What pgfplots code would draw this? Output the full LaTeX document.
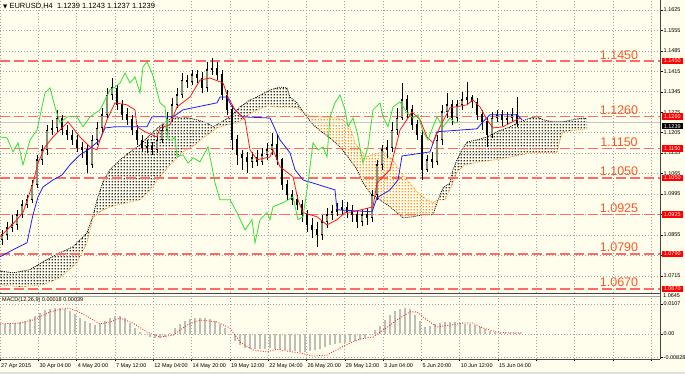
\documentclass[border=0pt]{standalone}
\usepackage{pgfplots}
\pgfplotsset{compat=1.18}
\usepackage{pgfplotstable}
\usepackage{fontspec}
\setmainfont{Liberation Sans}
\newfontfamily\djv{DejaVu Sans}
\usetikzlibrary{patterns}
\pgfdeclarepatternformonly{mtdots}{\pgfqpoint{0pt}{0pt}}{\pgfqpoint{2.8pt}{2.8pt}}{\pgfqpoint{2.8pt}{2.8pt}}{%
  \pgfpathrectangle{\pgfqpoint{0.7pt}{0.7pt}}{\pgfqpoint{1.3pt}{1.3pt}}\pgfusepath{fill}}
\definecolor{bg}{RGB}{255,253,235}
\definecolor{lvl}{RGB}{255,105,105}
\definecolor{lvltxt}{RGB}{245,90,40}
\definecolor{tenkan}{RGB}{245,30,30}
\definecolor{kijun}{RGB}{30,30,250}
\definecolor{chikou}{RGB}{50,225,50}
\definecolor{spanA}{RGB}{255,150,40}
\definecolor{bull}{RGB}{135,145,120}
\definecolor{gridc}{RGB}{165,165,165}
\definecolor{histc}{RGB}{190,190,185}
\newcommand\ticklab{\fontsize{5.5}{6}\selectfont}

\pgfplotstableread{
x o h l c
2 1.0838 1.0872 1.0821 1.0855
7 1.0855 1.0900 1.0838 1.0879
12 1.0879 1.0924 1.0866 1.0889
17 1.0889 1.0941 1.0872 1.0924
22 1.0924 1.0975 1.0913 1.0958
27 1.0958 1.0992 1.0948 1.0975
32 1.0975 1.1043 1.0965 1.1026
37 1.1026 1.1129 1.1016 1.1112
42 1.1112 1.1163 1.1095 1.1146
47 1.1146 1.1232 1.1129 1.1214
52 1.1214 1.1249 1.1197 1.1221
57 1.1221 1.1283 1.1208 1.1255
62 1.1255 1.1266 1.1197 1.1214
67 1.1214 1.1232 1.1180 1.1197
72 1.1197 1.1214 1.1163 1.1180
77 1.1180 1.1197 1.1139 1.1153
82 1.1153 1.1173 1.1119 1.1146
87 1.1146 1.1163 1.1067 1.1095
92 1.1095 1.1197 1.1084 1.1180
97 1.1180 1.1242 1.1163 1.1221
102 1.1221 1.1290 1.1208 1.1266
107 1.1266 1.1358 1.1255 1.1334
112 1.1334 1.1392 1.1317 1.1358
117 1.1358 1.1368 1.1283 1.1300
122 1.1300 1.1317 1.1249 1.1266
127 1.1266 1.1290 1.1232 1.1249
132 1.1249 1.1266 1.1197 1.1214
137 1.1214 1.1232 1.1163 1.1180
142 1.1180 1.1197 1.1139 1.1153
147 1.1153 1.1180 1.1136 1.1156
152 1.1156 1.1173 1.1129 1.1146
157 1.1146 1.1197 1.1136 1.1180
162 1.1180 1.1232 1.1170 1.1214
167 1.1214 1.1276 1.1204 1.1255
172 1.1255 1.1324 1.1242 1.1300
177 1.1300 1.1358 1.1290 1.1334
182 1.1334 1.1409 1.1324 1.1385
187 1.1385 1.1403 1.1358 1.1379
192 1.1379 1.1420 1.1368 1.1403
197 1.1403 1.1420 1.1375 1.1392
202 1.1392 1.1413 1.1341 1.1358
207 1.1358 1.1447 1.1344 1.1420
212 1.1420 1.1461 1.1403 1.1426
217 1.1426 1.1447 1.1385 1.1403
222 1.1403 1.1420 1.1317 1.1334
227 1.1334 1.1351 1.1266 1.1283
232 1.1283 1.1300 1.1146 1.1180
237 1.1180 1.1197 1.1095 1.1129
242 1.1129 1.1146 1.1078 1.1119
247 1.1119 1.1139 1.1067 1.1105
252 1.1105 1.1139 1.1084 1.1119
257 1.1119 1.1146 1.1091 1.1105
262 1.1105 1.1153 1.1095 1.1129
267 1.1129 1.1170 1.1112 1.1146
272 1.1146 1.1204 1.1129 1.1163
277 1.1163 1.1197 1.1095 1.1112
282 1.1112 1.1119 1.1009 1.1026
287 1.1026 1.1043 1.0975 1.0992
292 1.0992 1.1009 1.0958 1.0975
297 1.0975 1.0992 1.0941 1.0958
302 1.0958 1.0975 1.0900 1.0924
307 1.0924 1.0941 1.0866 1.0889
312 1.0889 1.0913 1.0845 1.0872
317 1.0872 1.0900 1.0814 1.0855
322 1.0855 1.0924 1.0838 1.0900
327 1.0900 1.0948 1.0879 1.0924
332 1.0924 1.0958 1.0907 1.0934
337 1.0934 1.0965 1.0920 1.0941
342 1.0941 1.0975 1.0924 1.0948
347 1.0948 1.0968 1.0913 1.0934
352 1.0934 1.0958 1.0900 1.0924
357 1.0924 1.0941 1.0879 1.0900
362 1.0900 1.0941 1.0886 1.0924
367 1.0924 1.0948 1.0889 1.0913
372 1.0913 1.1009 1.0900 1.0992
377 1.0992 1.1112 1.0975 1.1095
382 1.1095 1.1163 1.1078 1.1146
387 1.1146 1.1180 1.1119 1.1153
392 1.1153 1.1242 1.1139 1.1214
397 1.1214 1.1290 1.1197 1.1255
402 1.1255 1.1375 1.1249 1.1317
407 1.1317 1.1334 1.1255 1.1283
412 1.1283 1.1300 1.1214 1.1232
417 1.1232 1.1249 1.1180 1.1197
422 1.1197 1.1214 1.1043 1.1078
427 1.1078 1.1129 1.1071 1.1112
432 1.1112 1.1139 1.1084 1.1105
437 1.1105 1.1197 1.1095 1.1180
442 1.1180 1.1300 1.1163 1.1276
447 1.1276 1.1341 1.1255 1.1300
452 1.1300 1.1317 1.1232 1.1255
457 1.1255 1.1317 1.1242 1.1300
462 1.1300 1.1344 1.1283 1.1317
467 1.1317 1.1379 1.1300 1.1324
472 1.1324 1.1334 1.1290 1.1310
477 1.1310 1.1324 1.1249 1.1266
482 1.1266 1.1283 1.1214 1.1242
487 1.1242 1.1255 1.1156 1.1197
492 1.1197 1.1276 1.1187 1.1255
497 1.1255 1.1283 1.1242 1.1266
502 1.1266 1.1283 1.1228 1.1249
507 1.1249 1.1276 1.1232 1.1255
512 1.1255 1.1290 1.1242 1.1266
517 1.1266 1.1327 1.1225 1.1239
}\candles

\begin{document}
\begin{tikzpicture}
\fill[bg] (0pt,0pt) rectangle (685pt,374pt);
\fill[gray!25] (0pt,0pt) rectangle (685pt,2pt);

\begin{axis}[
  name=main, at={(0pt,81pt)}, anchor=south west, scale only axis,
  width=660pt, height=293pt,
  xmin=0, xmax=660, ymin=1.0656, ymax=1.1659,
  clip=false, axis line style={draw=none},
  scaled y ticks=false, scaled x ticks=false,
  xtick={0,38.3,76.6,114.9,153.2,191.5,229.8,268.1,306.4,344.7,383,421.3,459.6,497.9,536.2,574.5,612.8,651.1},
  xticklabels={}, xtick style={draw=none},
  ytick={1.0715,1.0785,1.0855,1.0925,1.0995,1.1065,1.1135,1.1205,1.1275,1.1345,1.1415,1.1485,1.1555,1.1625},
  yticklabels={1.0715,1.0785,1.0855,1.0925,1.0995,1.1065,1.1135,1.1205,1.1275,1.1345,1.1415,1.1485,1.1555,1.1625},
  ytick pos=right, yticklabel pos=right, tick align=outside,
  major tick length=2.5pt, ytick style={black, line width=0.4pt},
  yticklabel style={font=\ticklab, anchor=west, inner sep=1pt},
  grid=major, major grid style={draw=gridc, line width=0.5pt, dash pattern=on 1pt off 2pt},
  candle/.style={only marks, mark=*, mark size=0pt, mark options={draw=none, fill=none}},
]
% cloud fills
\addplot[draw=none, pattern=mtdots, pattern color=black!80] coordinates {
(0,1.0732)(13,1.0725)(30,1.0736)(43,1.0763)(60,1.0794)(73,1.0814)(87,1.0862)(93,1.0920)(97,1.0975)(103,1.1037)(110,1.1078)(120,1.1112)(130,1.1139)(140,1.1163)(150,1.1197)(160,1.1228)(170,1.1252)(183,1.1259)(197,1.1249)(207,1.1238)(213,1.1225)(220,1.1238)(230,1.1259)(240,1.1293)(250,1.1317)(257,1.1327)(270,1.1351)(280,1.1361)(287,1.1358)(290,1.1327)(297,1.1307)(303,1.1276)
(297,1.1290)(290,1.1293)(277,1.1293)(267,1.1296)(253,1.1276)(243,1.1252)(237,1.1238)(227,1.1232)(217,1.1221)(203,1.1187)(195,1.1163)(183,1.1139)(170,1.1095)(160,1.1054)(150,1.1009)(140,1.0975)(127,1.0965)(110,1.0951)(100,1.0934)(93,1.0913)(87,1.0828)(77,1.0760)(60,1.0708)(43,1.0684)(20,1.0677)(0,1.0684)} -- cycle;
\addplot[draw=none, pattern=mtdots, pattern color=spanA] coordinates {
(303,1.1276)(310,1.1262)(323,1.1259)(337,1.1255)(343,1.1249)(350,1.1225)(355,1.1170)(360,1.1146)(367,1.1122)(373,1.1129)(383,1.1139)(393,1.1112)(400,1.1071)(407,1.1043)(417,1.1002)(427,1.0975)(433,1.0965)(438,1.0975)
(433,1.0924)(423,1.0924)(413,1.0917)(403,1.0913)(397,1.0931)(390,1.0951)(380,1.0975)(370,1.0999)(363,1.1033)(357,1.1078)(350,1.1112)(340,1.1156)(330,1.1187)(323,1.1204)(313,1.1232)} -- cycle;
\addplot[draw=none, pattern=mtdots, pattern color=black!80] coordinates {
(438,1.0975)(443,1.1016)(450,1.1033)(453,1.1078)(457,1.1112)(462,1.1146)(467,1.1173)(477,1.1180)(487,1.1190)(497,1.1208)(510,1.1225)(520,1.1242)(530,1.1255)(537,1.1259)(543,1.1249)(553,1.1242)(563,1.1242)(573,1.1249)(583,1.1255)(587,1.1252)
(587,1.1218)(577,1.1214)(563,1.1208)(560,1.1180)(557,1.1136)(533,1.1136)(520,1.1129)(507,1.1119)(495,1.1112)(480,1.1105)(465,1.1095)(457,1.1071)(452,1.1026)(445,1.0975)} -- cycle;
% span lines
\addplot[black, line width=0.7pt, dash pattern=on 1pt off 1pt] coordinates {
(0,1.0732)(13,1.0725)(30,1.0736)(43,1.0763)(60,1.0794)(73,1.0814)(87,1.0862)(93,1.0920)(97,1.0975)(103,1.1037)(110,1.1078)(120,1.1112)(130,1.1139)(140,1.1163)(150,1.1197)(160,1.1228)(170,1.1252)(183,1.1259)(197,1.1249)(207,1.1238)(213,1.1225)(220,1.1238)(230,1.1259)(240,1.1293)(250,1.1317)(257,1.1327)(270,1.1351)(280,1.1361)(287,1.1358)(290,1.1327)(297,1.1307)(303,1.1276)(313,1.1232)(323,1.1204)(330,1.1187)(340,1.1156)(350,1.1112)(357,1.1078)(363,1.1033)(370,1.0999)(380,1.0975)(390,1.0951)(397,1.0931)(403,1.0913)(413,1.0917)(423,1.0924)(433,1.0924)(438,1.0975)(443,1.1016)(450,1.1033)(453,1.1078)(457,1.1112)(462,1.1146)(467,1.1173)(477,1.1180)(487,1.1190)(497,1.1208)(510,1.1225)(520,1.1242)(530,1.1255)(537,1.1259)(543,1.1249)(553,1.1242)(563,1.1242)(573,1.1249)(583,1.1255)(587,1.1252)};
\addplot[spanA, line width=0.7pt, dash pattern=on 1pt off 1pt] coordinates {
(0,1.0684)(20,1.0677)(43,1.0684)(60,1.0708)(77,1.0760)(87,1.0828)(93,1.0913)(100,1.0934)(110,1.0951)(127,1.0965)(140,1.0975)(150,1.1009)(160,1.1054)(170,1.1095)(183,1.1139)(195,1.1163)(203,1.1187)(217,1.1221)(227,1.1232)(237,1.1238)(243,1.1252)(253,1.1276)(267,1.1296)(277,1.1293)(290,1.1293)(297,1.1290)(303,1.1276)(310,1.1262)(323,1.1259)(337,1.1255)(343,1.1249)(350,1.1225)(355,1.1170)(360,1.1146)(367,1.1122)(373,1.1129)(383,1.1139)(393,1.1112)(400,1.1071)(407,1.1043)(417,1.1002)(427,1.0975)(433,1.0965)(438,1.0975)(445,1.0975)(452,1.1026)(457,1.1071)(465,1.1095)(480,1.1105)(495,1.1112)(507,1.1119)(520,1.1129)(533,1.1136)(557,1.1136)(560,1.1180)(563,1.1208)(577,1.1214)(587,1.1218)};
% level lines
\addplot[lvl, line width=1.4pt, dash pattern=on 10pt off 4pt] coordinates {(0,1.1450)(660,1.1450)};
\addplot[lvl, line width=1.4pt, dash pattern=on 10pt off 4pt] coordinates {(0,1.1260)(660,1.1260)};
\addplot[lvl, line width=1.4pt, dash pattern=on 10pt off 4pt] coordinates {(0,1.1150)(660,1.1150)};
\addplot[lvl, line width=1.4pt, dash pattern=on 10pt off 4pt] coordinates {(0,1.1050)(660,1.1050)};
\addplot[lvl, line width=1.4pt, dash pattern=on 10pt off 4pt] coordinates {(0,1.0925)(660,1.0925)};
\addplot[lvl, line width=1.4pt, dash pattern=on 10pt off 4pt] coordinates {(0,1.0790)(660,1.0790)};
\addplot[lvl, line width=1.4pt, dash pattern=on 10pt off 4pt] coordinates {(0,1.0670)(660,1.0670)};
\addplot[gray!45, line width=0.7pt] coordinates {(0,1.1239)(660,1.1239)};
% candles: wicks
\addplot[candle, error bars/.cd, y dir=plus, y explicit, error mark=none,
  error bar style={line width=0.7pt, draw=black}]
  table[x=x, y=l, y error expr=\thisrow{h}-\thisrow{l}] {\candles};
% bodies
\addplot[candle, error bars/.cd, y dir=both, y explicit, error mark=none,
  error bar style={line width=2.8pt, draw=black}]
  table[x=x, y expr=(\thisrow{o}+\thisrow{c})/2, y error expr={abs(\thisrow{c}-\thisrow{o})/2+0.00015}] {\candles};
\addplot[candle, restrict expr to domain={\thisrow{c}-\thisrow{o}}{0.0008:1},
  error bars/.cd, y dir=both, y explicit, error mark=none,
  error bar style={line width=1.4pt, draw=bull}]
  table[x=x, y expr=(\thisrow{o}+\thisrow{c})/2, y error expr={abs(\thisrow{c}-\thisrow{o})/2-0.0003}] {\candles};
% ichimoku lines
\addplot[kijun, line width=0.8pt] coordinates {
(0,1.0780)(13,1.0804)(27,1.0828)(33,1.0924)(38,1.0985)(43,1.1019)(53,1.1043)(62,1.1060)(70,1.1095)(80,1.1129)(88,1.1146)(100,1.1180)(105,1.1221)(115,1.1225)(147,1.1225)(152,1.1259)(173,1.1259)(183,1.1283)(217,1.1307)(220,1.1327)(227,1.1327)(232,1.1293)(242,1.1259)(270,1.1255)(280,1.1180)(290,1.1136)(295,1.1078)(303,1.1043)(335,1.1009)(337,1.0941)(372,1.0934)(377,1.0982)(390,1.1009)(398,1.1043)(402,1.1125)(430,1.1139)(437,1.1208)(477,1.1218)(483,1.1242)(490,1.1266)(517,1.1266)(522,1.1249)};
\addplot[tenkan, line width=0.8pt] coordinates {
(0,1.0848)(15,1.0900)(23,1.0931)(33,1.1033)(38,1.1101)(45,1.1156)(53,1.1190)(60,1.1214)(68,1.1242)(72,1.1225)(80,1.1190)(90,1.1156)(97,1.1146)(100,1.1180)(107,1.1249)(115,1.1307)(127,1.1300)(135,1.1283)(137,1.1225)(145,1.1208)(157,1.1190)(160,1.1221)(170,1.1232)(177,1.1293)(190,1.1327)(200,1.1385)(210,1.1392)(223,1.1375)(228,1.1327)(235,1.1283)(245,1.1249)(250,1.1146)(257,1.1112)(270,1.1122)(273,1.1146)(280,1.1088)(293,1.1054)(298,1.0975)(303,1.0931)(317,1.0917)(327,1.0889)(337,1.0907)(345,1.0931)(353,1.0934)(373,1.0951)(377,1.1033)(390,1.1078)(400,1.1214)(412,1.1276)(420,1.1249)(427,1.1190)(433,1.1170)(440,1.1225)(450,1.1290)(467,1.1300)(473,1.1317)(480,1.1293)(487,1.1249)(493,1.1221)(503,1.1225)(510,1.1238)(520,1.1255)};
\addplot[chikou, line width=0.8pt] coordinates {
(0,1.1190)(7,1.1187)(13,1.1139)(18,1.1170)(23,1.1095)(30,1.1180)(37,1.1214)(42,1.1293)(45,1.1341)(50,1.1358)(55,1.1293)(60,1.1238)(67,1.1259)(77,1.1259)(83,1.1225)(90,1.1259)(100,1.1283)(110,1.1351)(115,1.1361)(120,1.1375)(125,1.1409)(130,1.1375)(135,1.1396)(140,1.1341)(143,1.1430)(147,1.1447)(152,1.1409)(155,1.1375)(160,1.1307)(165,1.1293)(167,1.1225)(168,1.1180)(172,1.1180)(175,1.1190)(177,1.1122)(183,1.1129)(188,1.1101)(193,1.1119)(200,1.1105)(208,1.1156)(212,1.1088)(215,1.1033)(220,1.0975)(230,1.0975)(237,1.0931)(245,1.0872)(252,1.0907)(255,1.0828)(260,1.0907)(267,1.0931)(270,1.0907)(273,1.0951)(283,1.0965)(293,1.0985)(298,1.0907)(303,1.0917)(308,1.1033)(313,1.1170)(318,1.1146)(323,1.1156)(327,1.1122)(330,1.1259)(335,1.1307)(340,1.1334)(345,1.1283)(348,1.1225)(353,1.1255)(357,1.1208)(363,1.1101)(368,1.1156)(373,1.1283)(380,1.1307)(383,1.1259)(388,1.1225)(393,1.1293)(400,1.1310)(407,1.1273)(413,1.1255)(418,1.1266)(423,1.1208)(428,1.1180)(433,1.1225)(437,1.1259)(443,1.1225)(450,1.1255)(455,1.1238)(458,1.1242)};
% level texts
\foreach \v/\t in {1.1450/1.1450,1.1260/1.1260,1.1150/1.1150,1.1050/1.1050,1.0925/1.0925,1.0790/1.0790,1.0670/1.0670}{
  \edef\temp{\noexpand\node[anchor=base, text=lvltxt, font=\noexpand\fontsize{12.5}{13}\noexpand\selectfont, inner sep=0pt] at (axis cs:619,\v) [yshift=2pt] {\t};}
  \temp
}
\coordinate (L1) at (axis cs:660,1.1450);
\coordinate (L2) at (axis cs:660,1.1260);
\coordinate (L3) at (axis cs:660,1.1150);
\coordinate (L4) at (axis cs:660,1.1050);
\coordinate (L5) at (axis cs:660,1.0925);
\coordinate (L6) at (axis cs:660,1.0790);
\coordinate (L7) at (axis cs:660,1.0670);
\coordinate (LC) at (axis cs:660,1.1239);
\end{axis}

\begin{axis}[
  name=macd, at={(0pt,15pt)}, anchor=south west, scale only axis,
  width=660pt, height=63pt,
  xmin=0, xmax=660, ymin=-0.008929, ymax=0.013571,
  clip=false, axis line style={draw=none},
  scaled y ticks=false, scaled x ticks=false,
  xtick={0,38.3,76.6,114.9,153.2,191.5,229.8,268.1,306.4,344.7,383,421.3,459.6,497.9,536.2,574.5,612.8,651.1},
  xticklabels={27 Apr 2015,30 Apr 04:00,4 May 20:00,7 May 12:00,12 May 04:00,14 May 20:00,19 May 12:00,22 May 04:00,26 May 20:00,29 May 12:00,3 Jun 04:00,5 Jun 20:00,10 Jun 12:00,15 Jun 04:00,,,,},
  xtick pos=left, ytick pos=right, yticklabel pos=right, tick align=outside,
  major tick length=2.5pt, tick style={black, line width=0.4pt},
  xticklabel style={font=\ticklab, anchor=north west, inner sep=1pt, yshift=-0.5pt},
  ytick={-0.00828,0,0.0107}, yticklabels={-0.00828,0.00,0.0107},
  yticklabel style={font=\ticklab, anchor=west, inner sep=1pt},
  grid=major, major grid style={draw=gridc, line width=0.5pt, dash pattern=on 1pt off 2pt},
]
\addplot[ycomb, histc, line width=2pt] coordinates {
(0,0.0036)(5,0.0036)(10,0.0039)(15,0.0039)(20,0.0043)(25,0.0046)(30,0.0054)(35,0.0064)(40,0.0075)(45,0.0086)(50,0.0089)(55,0.0093)(60,0.0093)(65,0.0089)(70,0.0082)(75,0.0071)(80,0.0057)(85,0.0046)(90,0.0039)(95,0.0032)(100,0.0036)(105,0.0046)(110,0.0057)(115,0.0064)(120,0.0064)(125,0.0057)(130,0.0039)(135,0.0021)(140,0.0007)(145,-0.0004)(150,-0.0011)(155,-0.0014)(160,-0.0014)(165,-0.0011)(170,0.0004)(175,0.0021)(180,0.0036)(185,0.0046)(190,0.0054)(195,0.0057)(200,0.0057)(205,0.0057)(210,0.0054)(215,0.0046)(220,0.0036)(225,0.0021)(230,-0.0004)(235,-0.0025)(240,-0.0039)(245,-0.0050)(250,-0.0054)(255,-0.0054)(260,-0.0054)(265,-0.0054)(270,-0.0050)(275,-0.0054)(280,-0.0057)(285,-0.0057)(290,-0.0061)(295,-0.0061)(300,-0.0064)(305,-0.0064)(310,-0.0061)(315,-0.0057)(320,-0.0054)(325,-0.0046)(330,-0.0039)(335,-0.0036)(340,-0.0032)(345,-0.0032)(350,-0.0029)(355,-0.0025)(360,-0.0021)(365,-0.0014)(370,-0.0004)(375,0.0014)(380,0.0029)(385,0.0050)(390,0.0068)(395,0.0082)(400,0.0089)(405,0.0093)(410,0.0089)(415,0.0068)(420,0.0046)(425,0.0025)(430,0.0029)(435,0.0036)(440,0.0039)(445,0.0043)(450,0.0043)(455,0.0043)(460,0.0039)(465,0.0036)(470,0.0036)(475,0.0032)(480,0.0025)(485,0.0018)(490,0.0011)(495,0.0007)(500,0.0004)(505,0.0004)(510,0.0003)(515,0.0002)(520,0.0002)};
\addplot[red!85, line width=0.8pt, dash pattern=on 1pt off 1.5pt] coordinates {
(0,0.0036)(20,0.0039)(33,0.0050)(50,0.0079)(67,0.0093)(77,0.0082)(90,0.0057)(100,0.0036)(110,0.0043)(120,0.0057)(133,0.0039)(147,0.0007)(160,-0.0011)(173,-0.0004)(187,0.0032)(200,0.0050)(217,0.0043)(230,0.0021)(240,-0.0029)(253,-0.0057)(267,-0.0064)(277,-0.0054)(287,-0.0061)(300,-0.0068)(313,-0.0079)(327,-0.0075)(340,-0.0050)(350,-0.0032)(360,-0.0018)(373,-0.0011)(383,0.0014)(397,0.0050)(410,0.0079)(417,0.0079)(427,0.0050)(437,0.0025)(450,0.0032)(463,0.0039)(473,0.0039)(483,0.0021)(497,0.0007)(510,0.0004)(522,0.0004)};
\end{axis}

% frame lines
\draw[gray!55!black, line width=0.8pt] (660pt,15pt) -- (660pt,374pt);
\draw[gray!55!black, line width=1.2pt] (0pt,80.6pt) -- (660pt,80.6pt);
\draw[gray!70, line width=0.6pt] (0pt,78pt) -- (660pt,78pt);
\draw[gray!55!black, line width=0.8pt] (0pt,15pt) -- (660pt,15pt);

% right price boxes
\foreach \n/\t in {L1/1.1450,L2/1.1260,L3/1.1150,L4/1.1050,L5/1.0925,L6/1.0790,L7/1.0670}{
  \node[fill=red, text=white, font=\ticklab, inner sep=0.6pt, minimum width=21pt, minimum height=6.5pt, anchor=west] at ([xshift=1.5pt]\n) {\t};
}
\node[fill=black, text=white, font=\ticklab, inner sep=0.6pt, minimum width=21pt, minimum height=6.5pt, anchor=west] at ([xshift=1.5pt,yshift=-3.5pt]LC) {1.1239};
\node[anchor=west, font=\ticklab, inner sep=0pt] at (663pt,78.2pt) {1.0645};

% titles
\node[anchor=west, font=\fontsize{7.5}{8}\selectfont, inner sep=0pt] at (3pt,367.5pt) {{\djv\fontsize{5.5}{6}\selectfont ▼}\ EURUSD,H4\ \ 1.1239 1.1243 1.1237 1.1239};
\node[anchor=west, font=\ticklab, inner sep=0pt] at (2pt,73.5pt) {MACD(12,26,9) 0.00018 0.00039};

\pgfresetboundingbox
\path (0pt,0pt) rectangle (685pt,374pt);
\end{tikzpicture}
\end{document}
